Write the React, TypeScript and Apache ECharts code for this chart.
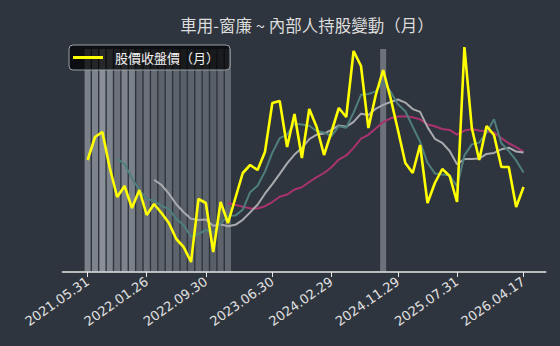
import React, { useEffect, useRef } from "react";
import * as echarts from "echarts";

// Axis tick labels (dates shown under the x axis)
const tickDates = [
  "2021.05.31", "2022.01.26", "2022.09.30", "2023.06.30",
  "2024.02.29", "2024.11.29", "2025.07.31", "2026.04.17",
];
const firstYear = 2021;
const firstMonth = 5;
const monthCount = 60;

// Monthly close price
const closePrice = [
  56, 67.5, 70, 52, 37.5, 43, 32, 41, 28.5, 34,
  29.5, 24.5, 16.5, 12.5, 5, 36.5, 34.5, 10, 35, 24.5,
  37, 49.5, 53.5, 51, 60, 84.5, 85.5, 62.5, 79, 57,
  81.5, 72.5, 58.5, 70, 82, 77.5, 110.5, 103, 72, 88.5,
  101, 87, 71, 54.5, 49.5, 63.5, 34.5, 44.5, 51.5, 48,
  35, 112.5, 72, 56, 73, 68.5, 52.5, 52.5, 32.5, 42.5,
];

// Short average line (teal)
const avgShort = [
  null, null, null, null, 56.6, 54, 46.9, 41.1, 36.4, 35.7,
  33, 31.5, 26.6, 23.4, 17.6, 19, 21, 19.7, 24.2, 28.1,
  28.2, 31.2, 39.9, 43.1, 50.2, 59.7, 66.9, 68.7, 74.3, 73.7,
  73.1, 70.5, 69.7, 67.9, 72.9, 72.1, 79.7, 88.6, 89, 90.3,
  95, 90.3, 83.9, 80.4, 72.6, 65.1, 54.6, 49.3, 48.7, 48.4,
  42.7, 58.3, 63.8, 64.7, 69.7, 76.4, 64.4, 60.5, 55.8, 49.7,
];

// Middle average line (light gray)
const avgMid = [
  null, null, null, null, null, null, null, null, null, 46.15,
  43.5, 39.2, 33.85, 29.9, 26.65, 26, 26.25, 23.15, 23.8, 22.85,
  23.6, 26.1, 29.8, 33.65, 39.15, 43.95, 49.05, 54.3, 58.7, 61.95,
  66.4, 68.7, 69.2, 71.1, 73.3, 72.6, 75.1, 79.15, 78.45, 81.6,
  83.55, 85, 86.25, 84.7, 81.45, 80.05, 72.45, 66.6, 64.55, 60.5,
  53.9, 56.45, 56.55, 56.7, 59.05, 59.55, 61.35, 62.15, 60.25, 59.7,
];

// Long average line (magenta)
const avgLong = [
  null, null, null, null, null, null, null, null, null, null,
  null, null, null, null, null, null, null, null, null, 34.5,
  33.55, 32.65, 31.825, 31.775, 32.9, 34.975, 37.65, 38.725, 41.25, 42.4,
  45, 47.4, 49.5, 52.375, 56.225, 58.275, 62.075, 66.725, 68.575, 71.775,
  74.975, 76.85, 77.725, 77.9, 77.375, 76.325, 73.775, 72.875, 71.5, 71.05,
  68.725, 70.725, 71.4, 70.7, 70.25, 69.8, 66.9, 64.375, 62.4, 60.1,
];

// Insider holding change intensity per month (0 = no change)
const insiderShade = [
  0.5, 0.52, 0.6, 0.52, 0.4, 0.52, 0.5, 0.32, 0.4, 0.35,
  0.3, 0.35, 0.3, 0.28, 0.3, 0.32, 0.3, 0.28, 0.3, 0.33,
  0, 0, 0, 0, 0, 0, 0, 0, 0, 0,
  0, 0, 0, 0, 0, 0, 0, 0, 0, 0,
  0.4, 0, 0, 0, 0, 0, 0, 0, 0, 0,
  0, 0, 0, 0, 0, 0, 0, 0, 0, 0,
];

const months: string[] = [];
for (let k = 0; k < monthCount; k++) {
  const m0 = firstMonth - 1 + k;
  const y = firstYear + Math.floor(m0 / 12);
  const m = (m0 % 12) + 1;
  months.push(`${y}.${m < 10 ? "0" + m : m}`);
}
const tickIndex = tickDates.map((d) => months.indexOf(d.slice(0, 7)));

const BG = "#2f353e";
const CJK = "'Noto Sans CJK TC', 'Noto Sans', sans-serif";

export default function App() {
  const ref = useRef<HTMLDivElement>(null);
  useEffect(() => {
    document.body.style.margin = "0";
    document.body.style.background = BG;
    const chart = echarts.init(ref.current!, null, { renderer: "svg" });
    const pts = (arr: (number | null)[]) => arr.map((v, i) => [i, v]);
    chart.setOption({
      animation: false,
      backgroundColor: BG,
      title: {
        text: "車用-窗廉 ~ 內部人持股變動（月）",
        left: 302,
        textAlign: "center",
        top: 12,
        textStyle: { color: "#dcdcdc", fontSize: 16.5, fontWeight: "normal", fontFamily: CJK },
      },
      legend: {
        data: ["股價收盤價（月）"],
        left: 69,
        top: 45,
        icon: "rect",
        itemWidth: 30,
        itemHeight: 3,
        backgroundColor: "rgba(0,0,0,0.72)",
        borderColor: "#9aa0a6",
        borderWidth: 1,
        borderRadius: 4,
        padding: [6, 11, 6, 4],
        textStyle: { color: "#f2f2f2", fontSize: 13, fontFamily: CJK, padding: [0, 0, 0, 7] },
      },
      grid: { left: 62.5, right: 14.3, top: 49, bottom: 74 },
      xAxis: {
        type: "value",
        min: -3.4,
        max: 62,
        splitLine: { show: false },
        axisLine: { show: true, onZero: false, lineStyle: { color: "#e8e8e8", width: 1.5 } },
        axisTick: { show: true, customValues: tickIndex, length: 5, lineStyle: { color: "#e8e8e8" } },
        axisLabel: {
          customValues: tickIndex,
          rotate: 35,
          color: "#e0e0e0",
          fontSize: 13,
          fontFamily: "'DejaVu Sans', sans-serif",
          formatter: (v: number) => {
            const k = tickIndex.indexOf(Math.round(v));
            return k >= 0 ? tickDates[k] : "";
          },
        },
      },
      yAxis: [
        { type: "value", min: 0, max: 111.5, show: false, splitLine: { show: false } },
        { type: "value", min: 0, max: 1, show: false, splitLine: { show: false } },
      ],
      series: [
        {
          type: "bar",
          yAxisIndex: 1,
          barWidth: 6,
          silent: true,
          itemStyle: { color: "#c8cdd4" },
          data: insiderShade
            .map((s, i) => (s > 0 ? { value: [i, 1], itemStyle: { opacity: s } } : null))
            .filter((d) => d !== null),
        },
        {
          type: "line",
          data: pts(avgLong),
          showSymbol: false,
          lineStyle: { color: "#a8336f", width: 2 },
          z: 3,
        },
        {
          type: "line",
          data: pts(avgMid),
          showSymbol: false,
          lineStyle: { color: "#a9aaae", width: 2 },
          z: 3,
        },
        {
          type: "line",
          data: pts(avgShort),
          showSymbol: false,
          lineStyle: { color: "#4f7f7c", width: 2 },
          z: 3,
        },
        {
          name: "股價收盤價（月）",
          type: "line",
          data: pts(closePrice),
          showSymbol: false,
          clip: false,
          lineStyle: { color: "#ffff00", width: 2.6 },
          itemStyle: { color: "#ffff00" },
          z: 4,
        },
      ],
    });
    return () => chart.dispose();
  }, []);
  return <div ref={ref} style={{ width: 560, height: 346, background: BG }} />;
}
